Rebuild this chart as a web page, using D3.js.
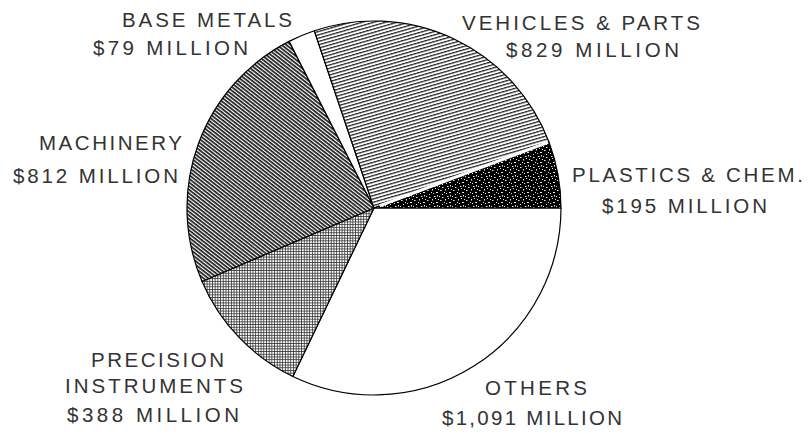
<!DOCTYPE html>
<html>
<head>
<meta charset="utf-8">
<script src="https://cdn.jsdelivr.net/npm/d3@7"></script>
<style>
  body { margin: 0; background: #fff; }
  svg { display: block; }
</style>
</head>
<body>
<div id="chart"></div>
<script>
// Slices in clockwise order, starting at 3 o'clock
const categories = ["OTHERS", "PRECISION INSTRUMENTS", "MACHINERY", "BASE METALS", "VEHICLES & PARTS", "PLASTICS & CHEM."];
const values = [1091, 388, 812, 79, 829, 195];
const nameLines = [["OTHERS"], ["PRECISION", "INSTRUMENTS"], ["MACHINERY"], ["BASE METALS"], ["VEHICLES & PARTS"], ["PLASTICS & CHEM."]];

const width = 810, height = 434;
const cx = 374, cy = 208, radius = 187;

// label placement: one entry per text line [x, baseline, width]
const labelLayout = [
  [[485, 395, 102], [442, 425, 180]],
  [[91, 367, 133], [65, 393, 178], [67, 422, 172]],
  [[39, 150, 143], [13, 183, 165]],
  [[122, 27, 170], [93, 55, 155]],
  [[462, 30, 238], [506, 57, 173]],
  [[572, 182, 231], [602, 213, 165]]
];

const fills = ["#fff", "url(#p-grid)", "url(#p-diag)", "#fff", "url(#p-lines)", "url(#p-speckle)"];

const svg = d3.select("#chart").append("svg")
  .attr("width", width)
  .attr("height", height);

const defs = svg.append("defs");

// vehicles: fine lines rising to the right
const pl = defs.append("pattern").attr("id", "p-lines")
  .attr("patternUnits", "userSpaceOnUse")
  .attr("width", 8).attr("height", 3.2)
  .attr("patternTransform", "rotate(-16)");
pl.append("rect").attr("width", 8).attr("height", 3.2).attr("fill", "#fff");
pl.append("rect").attr("y", 0).attr("width", 8).attr("height", 1.25).attr("fill", "#222");

// machinery: dense diagonal hatching
const pd = defs.append("pattern").attr("id", "p-diag")
  .attr("patternUnits", "userSpaceOnUse")
  .attr("width", 8).attr("height", 2.9)
  .attr("patternTransform", "rotate(38)");
pd.append("rect").attr("width", 8).attr("height", 2.9).attr("fill", "#fff");
pd.append("rect").attr("width", 8).attr("height", 1.7).attr("fill", "#1a1a1a");

// precision instruments: fine cross grid
const pg = defs.append("pattern").attr("id", "p-grid")
  .attr("patternUnits", "userSpaceOnUse")
  .attr("width", 2.7).attr("height", 2.7);
pg.append("rect").attr("width", 2.7).attr("height", 2.7).attr("fill", "#fff");
pg.append("rect").attr("width", 2.7).attr("height", 0.8).attr("fill", "#333");
pg.append("rect").attr("width", 0.8).attr("height", 2.7).attr("fill", "#333");

// plastics: black with white speckles
const ps = defs.append("pattern").attr("id", "p-speckle")
  .attr("patternUnits", "userSpaceOnUse")
  .attr("width", 13).attr("height", 10);
ps.append("rect").attr("width", 13).attr("height", 10).attr("fill", "#000");
[[1, 2, 1.5, 1], [6, 1, 1, 1.5], [10, 4, 2, 1], [3, 6, 1, 1], [8, 8, 1.5, 1], [12, 1, 1, 1],
 [5, 4, 1, 1], [0, 8, 1, 1], [9, 0, 1, 1], [11, 7, 1, 1.5], [7, 5, 1, 1], [3, 9, 1.5, 1]]
  .forEach(d => ps.append("rect")
    .attr("x", d[0]).attr("y", d[1]).attr("width", d[2]).attr("height", d[3])
    .attr("fill", "#e8e8e8"));

const pie = d3.pie()
  .sort(null)
  .startAngle(Math.PI / 2)
  .endAngle(Math.PI / 2 + 2 * Math.PI)
  .value(d => d);

const arcs = pie(values);
const arc = d3.arc().innerRadius(0).outerRadius(radius);

const g = svg.append("g").attr("transform", `translate(${cx},${cy})`);

g.selectAll("path.slice")
  .data(arcs)
  .enter()
  .append("path")
  .attr("class", "slice")
  .attr("d", arc)
  .attr("fill", (d, i) => fills[i])
  .attr("stroke", "#000")
  .attr("stroke-width", 1.2)
  .attr("stroke-linejoin", "round");

// white gap between vehicles and plastics
const gapAngle = arcs[5].startAngle;
g.append("line")
  .attr("x1", 6 * Math.sin(gapAngle))
  .attr("y1", -6 * Math.cos(gapAngle))
  .attr("x2", (radius - 1) * Math.sin(gapAngle))
  .attr("y2", -(radius - 1) * Math.cos(gapAngle))
  .attr("stroke", "#fff")
  .attr("stroke-width", 3);

// labels
const fmt = d3.format(",");
categories.forEach((c, i) => {
  const lines = nameLines[i].concat(["$" + fmt(values[i]) + " MILLION"]);
  lines.forEach((t, j) => {
    const pos = labelLayout[i][j];
    svg.append("text")
      .attr("x", pos[0])
      .attr("y", pos[1])
      .attr("textLength", pos[2])
      .attr("lengthAdjust", "spacing")
      .attr("font-family", "'Liberation Sans', Arial, sans-serif")
      .attr("font-size", 20.5)
      .attr("fill", "#333")
      .text(t);
  });
});
</script>
</body>
</html>
